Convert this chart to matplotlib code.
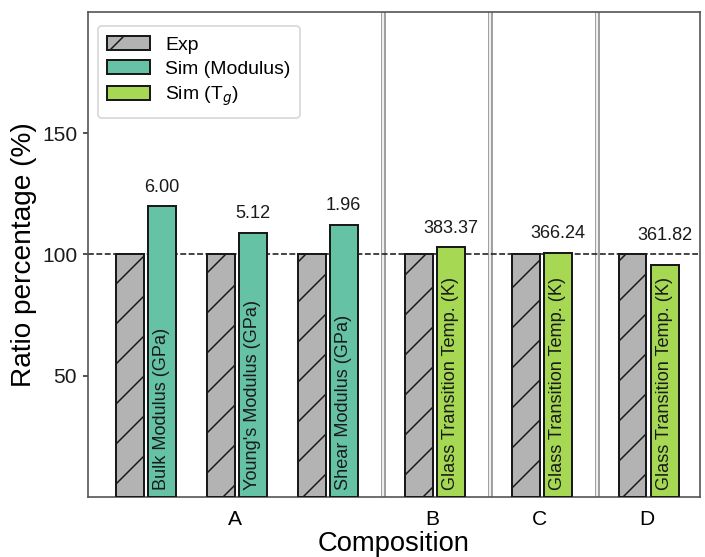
import matplotlib
matplotlib.use("Agg")
import matplotlib.pyplot as plt
from matplotlib.patches import Patch

plt.rcParams['font.family'] = ['Liberation Sans', 'DejaVu Sans']
plt.rcParams['hatch.linewidth'] = 0.9

# data
groups = ['A', 'B', 'C', 'D']
exp_vals = [100, 100, 100, 100, 100, 100]
sim_vals = [119.8, 109.0, 112.0, 102.9, 100.7, 95.5]
value_labels = ['6.00', '5.12', '1.96', '383.37', '366.24', '361.82']
prop_labels = ['Bulk Modulus (GPa)', "Young's Modulus (GPa)", 'Shear Modulus (GPa)',
               'Glass Transition Temp. (K)', 'Glass Transition Temp. (K)',
               'Glass Transition Temp. (K)']
is_tg = [False, False, False, True, True, True]

# layout
x = [0, 0.85, 1.7, 2.7, 3.7, 4.7]
tick_x = [0.85, 2.7, 3.7, 4.7]
sep_x = [2.235, 3.235, 4.24]
w = 0.26
gap = 0.04

c_exp = '#b3b3b3'
c_mod = '#66c2a5'
c_tg = '#a6d854'
ink = '#1a1a1a'

fig = plt.figure(figsize=(5.875, 4.641667), dpi=120)
ax = fig.add_axes([0.1248, 0.1077, 0.8681, 0.8708])

ax.bar([xi - w for xi in x], exp_vals, width=w, align='edge', color=c_exp,
       edgecolor=ink, linewidth=1.2, hatch='/', zorder=3)
sim_colors = [c_tg if t else c_mod for t in is_tg]
ax.bar([xi + gap for xi in x], sim_vals, width=w, align='edge', color=sim_colors,
       edgecolor=ink, linewidth=1.2, zorder=3)

for i, xi in enumerate(x):
    cx = xi + gap + w / 2
    ax.text(cx, max(sim_vals[i], exp_vals[i]) + 4.5, value_labels[i],
            ha='center', va='bottom', fontsize=10.9, color=ink, zorder=4)
    ax.text(cx, 3, prop_labels[i], rotation=90, ha='center', va='bottom',
            fontsize=10.9, color=ink, zorder=4)

ax.axhline(100, color=ink, linestyle='--', linewidth=0.95, zorder=2)

# double separators between compositions
for s in sep_x:
    ax.axvline(s, color='#a0a0a0', linewidth=3.0, zorder=1)
    ax.axvline(s, color='white', linewidth=1.0, zorder=1)

ax.set_xlim(-0.52, 5.2)
ax.set_ylim(0, 200)
ax.set_yticks([50, 100, 150])
ax.set_xticks(tick_x)
ax.set_xticklabels(groups)
ax.tick_params(axis='x', length=0, labelsize=12.6, pad=8)
ax.tick_params(axis='y', length=3, width=0.9, labelsize=12.6, colors=ink)
for sp in ax.spines.values():
    sp.set_color('#555555')
    sp.set_linewidth(1.0)

ax.set_xlabel('Composition', fontsize=16.4, labelpad=1)
ax.set_ylabel('Ratio percentage (%)', fontsize=16.8, labelpad=3)

handles = [Patch(facecolor=c_exp, edgecolor=ink, hatch='/', linewidth=1.2),
           Patch(facecolor=c_mod, edgecolor=ink, linewidth=1.2),
           Patch(facecolor=c_tg, edgecolor=ink, linewidth=1.2)]
ax.legend(handles, ['Exp', 'Sim (Modulus)', 'Sim (T$_g$)'], loc='upper left',
          fontsize=11.6, handlelength=2.2, labelspacing=0.35, borderpad=0.5,
          bbox_to_anchor=(0.0, 0.99))

fig.savefig('out.png', dpi=120)
